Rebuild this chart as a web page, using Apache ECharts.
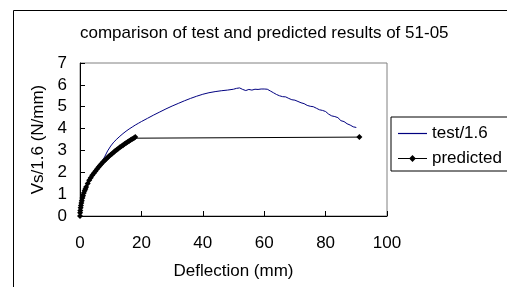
<!DOCTYPE html>
<html>
<head>
<meta charset="utf-8">
<script src="https://cdn.jsdelivr.net/npm/echarts@6/dist/echarts.min.js"></script>
<style>
  html, body { margin: 0; padding: 0; background: #fff; }
  #chart { width: 507px; height: 287px; }
</style>
</head>
<body>
<div id="chart"></div>
<script>
// test curve (Vs/1.6)
const testX = [0, 0.3, 0.6, 1, 1.5, 2, 3, 4, 5, 6, 7, 8, 9, 10, 11, 12, 13, 14, 15, 16, 17, 18, 19, 20,
  22, 24, 26, 28, 30, 32, 34, 36, 38, 40, 42, 44, 46, 48, 50, 51, 52, 53, 54, 55, 56, 57, 58, 59, 60,
  61, 62, 63, 64, 65, 66, 67, 68, 69, 70, 71, 72, 73, 74, 75, 76, 77, 78, 79, 80, 81, 82, 83, 84, 85,
  86, 87, 88, 89, 90]
const testY = [0, 0.5, 0.72, 0.95, 1.15, 1.35, 1.65, 1.88, 2.08, 2.27, 2.45, 2.7, 2.98, 3.2, 3.38, 3.52,
  3.65, 3.77, 3.88, 3.98, 4.07, 4.16, 4.24, 4.32, 4.47, 4.62, 4.76, 4.9, 5.03, 5.15, 5.27, 5.38, 5.48,
  5.57, 5.64, 5.69, 5.73, 5.76, 5.8, 5.84, 5.86, 5.79, 5.74, 5.79, 5.76, 5.8, 5.79, 5.81, 5.81, 5.8,
  5.72, 5.64, 5.56, 5.5, 5.46, 5.45, 5.38, 5.32, 5.3, 5.24, 5.18, 5.14, 5.06, 5.02, 5.0, 4.93, 4.86,
  4.83, 4.78, 4.66, 4.58, 4.55, 4.5, 4.36, 4.32, 4.22, 4.16, 4.08, 4.05]

// predicted curve
const predX = [0, 0.05, 0.1, 0.2, 0.3, 0.45, 0.6, 0.8, 1.0, 1.25, 1.5, 1.75, 2, 2.5, 3, 3.5, 4, 4.5, 5,
  5.5, 6, 6.5, 7, 7.5, 8, 8.5, 9, 9.5, 10, 10.5, 11, 11.5, 12, 12.5, 13, 13.5, 14, 14.5, 15, 15.5, 16,
  16.5, 17, 17.5, 18, 91]
const predY = [0, 0.15, 0.25, 0.38, 0.48, 0.6, 0.7, 0.82, 0.93, 1.05, 1.15, 1.24, 1.33, 1.49, 1.63, 1.75,
  1.86, 1.96, 2.05, 2.14, 2.23, 2.31, 2.39, 2.47, 2.54, 2.61, 2.68, 2.74, 2.8, 2.86, 2.92, 2.98, 3.03,
  3.09, 3.14, 3.19, 3.24, 3.29, 3.34, 3.39, 3.43, 3.48, 3.52, 3.56, 3.61, 3.61]

const xTicks = [0, 20, 40, 60, 80, 100]
const yTicks = [0, 1, 2, 3, 4, 5, 6, 7]

const FONT = 'Liberation Sans, Arial, sans-serif'

function pairs(xs, ys) {
  return xs.map((x, i) => [x, ys[i]])
}

const chart = echarts.init(document.getElementById('chart'), null, { renderer: 'canvas' })

const option = {
  backgroundColor: '#fff',
  animation: false,
  title: {
    text: 'comparison of test and predicted results of 51-05',
    left: 80,
    top: 25,
    padding: 0,
    textStyle: { fontFamily: FONT, fontSize: 17, fontWeight: 'normal', color: '#000' }
  },
  legend: {
    left: 391,
    top: 117,
    orient: 'vertical',
    padding: [8, 30, 4, 7],
    itemGap: 8,
    itemWidth: 29,
    itemHeight: 14,
    borderColor: '#000',
    borderWidth: 1,
    backgroundColor: '#fff',
    textStyle: { fontFamily: FONT, fontSize: 17, color: '#000' },
    data: [
      // plain line sample, no marker
      { name: 'test/1.6', icon: 'path://M0,0 L29,0 L29,1.2 L0,1.2 Z' },
      // thin line with a small diamond in the middle
      { name: 'predicted', icon: 'path://M0,6.4 L11.6,6.4 L14.5,3.5 L17.4,6.4 L29,6.4 L29,7.6 L17.4,7.6 L14.5,10.5 L11.6,7.6 L0,7.6 Z' }
    ]
  },
  grid: {
    left: 80, top: 63, right: 120, bottom: 71,
    show: true,
    borderColor: '#808080',
    borderWidth: 1
  },
  xAxis: {
    type: 'value',
    min: xTicks[0],
    max: xTicks[xTicks.length - 1],
    interval: 20,
    name: 'Deflection (mm)',
    nameLocation: 'middle',
    nameGap: 47,
    nameTextStyle: { fontFamily: FONT, fontSize: 17, color: '#000' },
    axisLine: { lineStyle: { color: '#000', width: 1 } },
    axisTick: { inside: true, length: 5, lineStyle: { color: '#000' } },
    axisLabel: { fontFamily: FONT, fontSize: 17, color: '#000', margin: 19 },
    splitLine: { show: false }
  },
  yAxis: {
    type: 'value',
    min: yTicks[0],
    max: yTicks[yTicks.length - 1],
    interval: 1,
    name: 'Vs/1.6 (N/mm)',
    nameLocation: 'middle',
    nameGap: 31,
    nameTextStyle: { fontFamily: FONT, fontSize: 17, color: '#000' },
    axisLine: { show: true, lineStyle: { color: '#000', width: 1 } },
    axisTick: { show: true, inside: true, length: 5, lineStyle: { color: '#000' } },
    axisLabel: { fontFamily: FONT, fontSize: 17, color: '#000', margin: 13 },
    splitLine: { show: false }
  },
  series: [
    {
      name: 'test/1.6',
      type: 'line',
      data: pairs(testX, testY),
      symbol: 'none',
      color: '#000080',
      lineStyle: { color: '#000080', width: 1 }
    },
    {
      name: 'predicted',
      type: 'line',
      data: pairs(predX, predY),
      symbol: 'diamond',
      symbolSize: 6,
      color: '#000',
      itemStyle: { color: '#000' },
      lineStyle: { color: '#000', width: 1 },
      z: 3
    }
  ],
  graphic: [
    {
      // outer chart border, runs off the right and bottom of the picture
      type: 'rect',
      shape: { x: 13.5, y: 10.5, width: 600, height: 400 },
      style: { fill: 'none', stroke: '#000', lineWidth: 1 },
      silent: true
    }
  ]
}

chart.setOption(option)
</script>
</body>
</html>
